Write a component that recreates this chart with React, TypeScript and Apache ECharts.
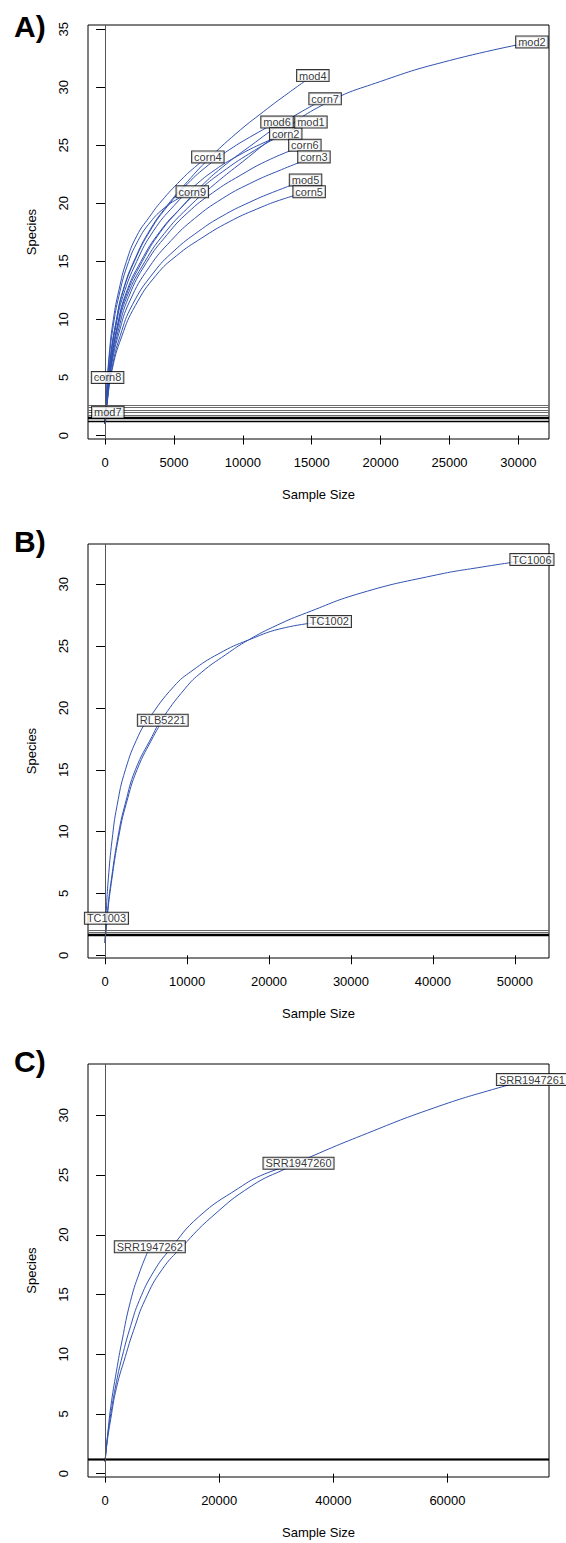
import React, { useEffect, useRef } from "react";
import * as echarts from "echarts";

type Pt = [number, number];

// ---------- Panel A (rarefaction curves: [sample size, species]) ----------
const A_corn4: Pt[] = [[1, 1], [100, 3.5], [300, 7], [600, 10], [1000, 12.5], [1550, 15], [2300, 17.2], [3200, 18.8], [4100, 20.2], [5500, 22], [6500, 23.1], [7460, 24]];
const A_corn9: Pt[] = [[1, 1], [100, 3.3], [300, 6.6], [600, 9.5], [1000, 12], [1600, 14.6], [2400, 16.8], [3300, 18.4], [4300, 19.6], [5300, 20.4], [6330, 21]];
const A_mod4: Pt[] = [[1, 1], [150, 3.5], [400, 6.8], [800, 9.8], [1300, 12.5], [2200, 15.3], [3300, 17.8], [4500, 19.8], [6000, 21.9], [7500, 23.8], [9500, 26], [11500, 27.9], [13300, 29.5], [15080, 31]];
const A_mod6: Pt[] = [[1, 1], [150, 3.5], [400, 6.8], [800, 9.8], [1300, 12.4], [2200, 15.2], [3300, 17.7], [4500, 19.7], [6000, 21.7], [7500, 23.3], [9000, 24.6], [10800, 25.9], [12480, 27]];
const A_corn2: Pt[] = [[1, 1], [150, 3.4], [400, 6.6], [800, 9.5], [1300, 12], [2300, 15], [3500, 17.6], [5000, 19.8], [6500, 21.5], [8000, 22.9], [9500, 24], [11300, 25.1], [13110, 26]];
const A_mod1: Pt[] = [[1, 1], [150, 3.3], [450, 6.5], [900, 9.5], [1500, 12.2], [2600, 15], [4000, 17.6], [5500, 19.6], [7000, 21.3], [8500, 22.7], [10500, 24.3], [12700, 25.8], [14940, 27]];
const A_corn7: Pt[] = [[1, 1], [150, 3.3], [450, 6.5], [900, 9.4], [1500, 12], [2700, 15], [4000, 17.5], [5500, 19.6], [7000, 21.5], [8500, 23.1], [10500, 24.9], [13000, 27], [15970, 29]];
const A_mod2: Pt[] = [[1, 1], [150, 3.2], [450, 6.3], [900, 9.2], [1600, 12], [2900, 15], [4300, 17.4], [6000, 19.6], [8000, 21.7], [10000, 23.6], [12500, 25.9], [16000, 28.6], [20000, 30.5], [25000, 32.3], [30980, 33.9]];
const A_corn6: Pt[] = [[1, 1], [150, 3.1], [450, 6.1], [950, 9], [1700, 11.9], [3000, 14.9], [4500, 17.3], [6000, 19.2], [7800, 20.9], [9800, 22.4], [12000, 23.8], [14500, 25]];
const A_corn3: Pt[] = [[1, 1], [150, 3], [450, 5.9], [1000, 8.8], [1800, 11.6], [3200, 14.5], [4800, 16.8], [6500, 18.7], [8500, 20.4], [10500, 21.7], [12800, 22.9], [15160, 24]];
const A_mod5: Pt[] = [[1, 1], [150, 2.9], [500, 5.8], [1100, 8.6], [2000, 11.3], [3500, 14], [5000, 15.9], [6800, 17.6], [8500, 18.9], [10500, 20.1], [12500, 21.1], [14550, 22]];
const A_corn5: Pt[] = [[1, 1], [150, 2.8], [500, 5.6], [1200, 8.5], [2200, 11.2], [3700, 13.8], [5200, 15.5], [7000, 17], [9000, 18.4], [11000, 19.5], [13000, 20.4], [14810, 21]];
const A_corn8: Pt[] = [[1, 1], [60, 2.6], [120, 3.9], [180, 5]];
const A_mod7: Pt[] = [[1, 1], [100, 1.6], [200, 2]];

const A_names = ["corn4", "corn9", "mod4", "mod6", "corn2", "mod1", "corn7", "mod2", "corn6", "corn3", "mod5", "corn5", "corn8", "mod7"];
const A_data = [A_corn4, A_corn9, A_mod4, A_mod6, A_corn2, A_mod1, A_corn7, A_mod2, A_corn6, A_corn3, A_mod5, A_corn5, A_corn8, A_mod7];
const A_rareLight = [2.58, 2.45, 2.2, 1.97, 1.78];
const A_rareDark = [1.58, 1.5, 1.24];
const A_rareMax = 30;
const A_xTicks = [0, 5000, 10000, 15000, 20000, 25000, 30000];
const A_yTicks = [0, 5, 10, 15, 20, 25, 30, 35];

// ---------- Panel B ----------
const B_TC1002: Pt[] = [[1, 1], [150, 3.6], [400, 6.2], [850, 9.3], [1460, 12.1], [2480, 15], [4100, 17.8], [5300, 19.1], [8400, 21.75], [10600, 23], [13900, 24.4], [17500, 25.5], [22000, 26.5], [27370, 27]];
const B_TC1006: Pt[] = [[1, 1], [250, 3.2], [700, 5.8], [1660, 9.9], [2480, 12.3], [3700, 15], [5730, 17.7], [6740, 18.9], [9800, 21.6], [11800, 22.9], [14700, 24.3], [17500, 25.5], [21000, 26.7], [24600, 27.7], [31250, 29.3], [40000, 30.7], [46000, 31.4], [52080, 32]];
const B_RLB5221: Pt[] = [[1, 1], [280, 3.2], [750, 5.8], [1750, 9.9], [2600, 12.3], [3900, 15], [5900, 17.7], [7040, 19]];
const B_TC1003: Pt[] = [[1, 1], [80, 2], [170, 3]];
const B_names = ["TC1002", "TC1006", "RLB5221", "TC1003"];
const B_data = [B_TC1002, B_TC1006, B_RLB5221, B_TC1003];
const B_rareLight = [2.05, 1.85];
const B_rareDark = [1.68, 1.62];
const B_rareMax = 40;
const B_xTicks = [0, 10000, 20000, 30000, 40000, 50000];
const B_yTicks = [0, 5, 10, 15, 20, 25, 30];

// ---------- Panel C ----------
const C_SRR1947262: Pt[] = [[1, 1], [400, 3], [1000, 5.6], [2000, 8.6], [3000, 11.2], [4430, 14.4], [6000, 16.8], [7840, 19]];
const C_SRR1947260: Pt[] = [[1, 1], [300, 2.6], [1000, 5], [2000, 7.7], [3000, 9.8], [4500, 12.4], [6000, 14.5], [8500, 16.9], [11400, 18.8], [16400, 21.5], [23400, 23.9], [28000, 25.1], [33900, 26]];
const C_SRR1947261: Pt[] = [[1, 1], [300, 2.4], [1000, 4.6], [2000, 7.2], [3550, 9.8], [5000, 12], [7050, 14.6], [10000, 17.1], [13500, 19], [18700, 21.5], [25700, 24.1], [31900, 25.6], [35400, 26.4], [44900, 28.3], [57500, 30.6], [68900, 32.3], [74800, 33]];
const C_names = ["SRR1947262", "SRR1947260", "SRR1947261"];
const C_data = [C_SRR1947262, C_SRR1947260, C_SRR1947261];
const C_rareLight: number[] = [];
const C_rareDark = [1.17, 1.17, 1.17];
const C_rareMax = 60;
const C_xTicks = [0, 20000, 40000, 60000];
const C_yTicks = [0, 5, 10, 15, 20, 25, 30];

const FONT = "'Liberation Sans', Arial, Helvetica, sans-serif";
const BLUE = "#3252b0";

type Panel = {
  title: string;
  names: string[];
  data: Pt[][];
  light: number[];
  dark: number[];
  rareMax: number;
  xTicks: number[];
  yTicks: number[];
  xMin: number;
  xMax: number;
  yMin: number;
  yMax: number;
  top: number;
  height: number;
  titleTop: number;
};

const panels: Panel[] = [
  { title: "A)", names: A_names, data: A_data, light: A_rareLight, dark: A_rareDark, rareMax: A_rareMax, xTicks: A_xTicks, yTicks: A_yTicks, xMin: -1240, xMax: 32220, yMin: -0.3, yMax: 35.36, top: 25, height: 414, titleTop: 11 },
  { title: "B)", names: B_names, data: B_data, light: B_rareLight, dark: B_rareDark, rareMax: B_rareMax, xTicks: B_xTicks, yTicks: B_yTicks, xMin: -2083, xMax: 54163, yMin: -0.22, yMax: 33.26, top: 544, height: 414, titleTop: 526 },
  { title: "C)", names: C_names, data: C_data, light: C_rareLight, dark: C_rareDark, rareMax: C_rareMax, xTicks: C_xTicks, yTicks: C_yTicks, xMin: -2992, xMax: 77792, yMin: -0.28, yMax: 34.3, top: 1064, height: 413, titleTop: 1046 },
];

const GRID_LEFT = 88;
const GRID_WIDTH = 461;

function buildOption() {
  const grid: any[] = [];
  const xAxis: any[] = [];
  const yAxis: any[] = [];
  const series: any[] = [];
  const graphic: any[] = [];

  panels.forEach((p, i) => {
    grid.push({
      left: GRID_LEFT,
      top: p.top,
      width: GRID_WIDTH,
      height: p.height,
      show: true,
      borderColor: "#000",
      borderWidth: 1,
      backgroundColor: "transparent",
    });
    xAxis.push({
      type: "value",
      gridIndex: i,
      min: p.xMin,
      max: p.xMax,
      axisLine: { show: false },
      splitLine: { show: false },
      axisTick: { show: true, length: 9, customValues: p.xTicks, lineStyle: { color: "#000", width: 1 } },
      axisLabel: { customValues: p.xTicks, fontSize: 13, color: "#000", margin: 17, fontFamily: FONT, formatter: (v: number) => String(v) },
      name: "Sample Size",
      nameLocation: "middle",
      nameGap: 49,
      nameTextStyle: { fontSize: 13, color: "#000", fontFamily: FONT },
    });
    yAxis.push({
      type: "value",
      gridIndex: i,
      min: p.yMin,
      max: p.yMax,
      axisLine: { show: false },
      splitLine: { show: false },
      axisTick: { show: true, length: 9, customValues: p.yTicks, lineStyle: { color: "#000", width: 1 } },
      axisLabel: { customValues: p.yTicks, rotate: 90, fontSize: 13, color: "#000", margin: 18, fontFamily: FONT, formatter: (v: number) => String(v) },
      name: "Species",
      nameLocation: "middle",
      nameGap: 50,
      nameRotate: 90,
      nameTextStyle: { fontSize: 13, color: "#000", fontFamily: FONT },
    });

    const markData: any[] = [];
    p.light.forEach((v) => markData.push({ yAxis: v, lineStyle: { color: "#6a6a6a", width: 1, type: "solid" } }));
    p.dark.forEach((v) => markData.push({ yAxis: v, lineStyle: { color: "#000", width: 1.3, type: "solid" } }));
    markData.push({ xAxis: p.rareMax, lineStyle: { color: "#555", width: 1, type: "solid" } });

    p.data.forEach((pts, k) => {
      series.push({
        type: "line",
        name: p.names[k],
        xAxisIndex: i,
        yAxisIndex: i,
        data: pts,
        showSymbol: false,
        symbol: "none",
        smooth: 0.5,
        lineStyle: { color: BLUE, width: 1 },
        z: 3,
        silent: true,
      });
    });

    series.push({
      type: "line",
      xAxisIndex: i,
      yAxisIndex: i,
      data: [],
      symbol: "none",
      silent: true,
      z: 4,
      markLine: {
        silent: true,
        symbol: ["none", "none"],
        label: { show: false },
        data: markData,
        animation: false,
      },
    });

    series.push({
      type: "scatter",
      xAxisIndex: i,
      yAxisIndex: i,
      symbolSize: 1,
      itemStyle: { color: "transparent" },
      silent: true,
      z: 10,
      data: p.data.map((pts, k) => ({ value: pts[pts.length - 1], name: p.names[k] })),
      label: {
        show: true,
        position: "inside",
        formatter: "{b}",
        fontSize: 11,
        lineHeight: 11,
        fontFamily: FONT,
        color: "#000",
        backgroundColor: "#fff",
        borderColor: "#000",
        borderWidth: 1,
        padding: [0, 2, 0, 2],
      },
    });

    graphic.push({
      type: "text",
      left: 14,
      top: p.titleTop,
      style: { text: p.title, font: `bold 30px ${FONT}`, fill: "#000" },
    });
  });

  return { animation: false, backgroundColor: "#fff", grid, xAxis, yAxis, series, graphic };
}

export default function App() {
  const ref = useRef<HTMLDivElement>(null);
  useEffect(() => {
    if (!ref.current) return;
    const chart = echarts.init(ref.current, undefined, { renderer: "svg" });
    chart.setOption(buildOption());
    return () => chart.dispose();
  }, []);
  return <div ref={ref} style={{ position: "absolute", left: 0, top: 0, width: 566, height: 1543, background: "#fff" }} />;
}
